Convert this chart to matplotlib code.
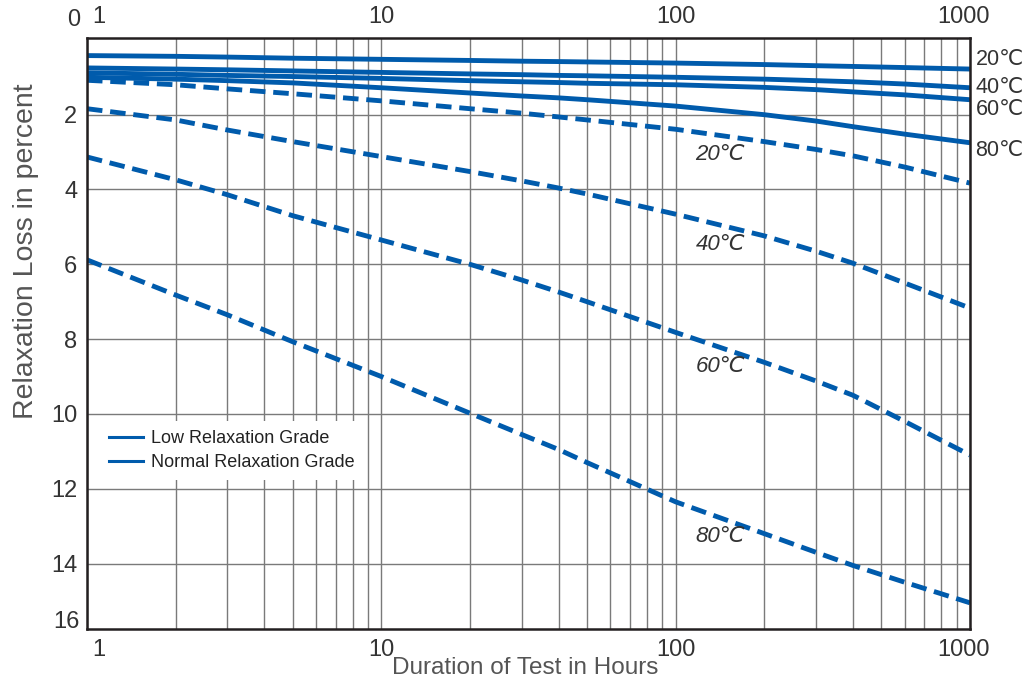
import numpy as np
import matplotlib
matplotlib.use("Agg")
import matplotlib.pyplot as plt
import matplotlib.transforms as mtransforms
from matplotlib.ticker import LogLocator, NullFormatter, FixedLocator, FixedFormatter

plt.rcParams['font.family'] = ['Liberation Sans', 'DejaVu Sans']

# hours
hours = [1, 2, 3, 5, 10, 20, 30, 40, 50, 100, 200, 300, 400, 600, 1000]

# low relaxation grade (solid)
low_20 = [0.42, 0.44, 0.46, 0.49, 0.52, 0.55, 0.57, 0.58, 0.59, 0.62, 0.66, 0.69, 0.71, 0.74, 0.78]
low_40 = [0.75, 0.78, 0.80, 0.83, 0.87, 0.91, 0.93, 0.95, 0.96, 1.00, 1.05, 1.09, 1.12, 1.18, 1.28]
low_60 = [0.88, 0.92, 0.95, 0.98, 1.03, 1.09, 1.12, 1.14, 1.16, 1.20, 1.27, 1.33, 1.39, 1.47, 1.60]
low_80 = [1.00, 1.05, 1.09, 1.15, 1.28, 1.42, 1.50, 1.55, 1.60, 1.77, 2.00, 2.17, 2.32, 2.52, 2.75]

# normal relaxation grade (dashed)
norm_20 = [1.08, 1.20, 1.31, 1.44, 1.63, 1.84, 1.96, 2.06, 2.14, 2.39, 2.72, 2.93, 3.10, 3.40, 3.83]
norm_40 = [1.84, 2.14, 2.41, 2.72, 3.12, 3.52, 3.77, 3.96, 4.12, 4.66, 5.24, 5.65, 5.97, 6.50, 7.17]
norm_60 = [3.13, 3.74, 4.14, 4.70, 5.35, 6.00, 6.42, 6.74, 7.00, 7.82, 8.62, 9.12, 9.50, 10.20, 11.10]
norm_80 = [5.88, 6.82, 7.35, 8.07, 9.00, 9.98, 10.55, 10.95, 11.30, 12.35, 13.20, 13.70, 14.05, 14.50, 15.05]

temp_labels = ['20℃', '40℃', '60℃', '80℃']
right_label_y = [0.53, 1.26, 1.87, 2.97]
inner_label_y = [3.07, 5.48, 8.74, 13.29]
inner_label_x = 142

x_ticks = [1, 10, 100, 1000]
x_ticklabels = ['1', '10', '100', '1000']
y_ticks = [2, 4, 6, 8, 10, 12, 14]

blue = '#005BAC'
txt = '#333333'
fs_tick = 17

fig = plt.figure(figsize=(10.34, 6.91), dpi=100)
ax = fig.add_axes([0.0841, 0.0897, 0.854, 0.8553])

for s in [low_20, low_40, low_60, low_80]:
    ax.plot(hours, s, color=blue, lw=3.5, solid_capstyle='butt')
for s in [norm_20, norm_40, norm_60, norm_80]:
    ax.plot(hours, s, color=blue, lw=3.5, dashes=(3.2, 1.6))

ax.set_xscale('log')
ax.set_xlim(1, 1000)
ax.set_ylim(15.75, -0.05)

ax.xaxis.set_major_locator(FixedLocator(x_ticks))
ax.xaxis.set_major_formatter(FixedFormatter(x_ticklabels))
ax.xaxis.set_minor_locator(LogLocator(base=10, subs=range(2, 10)))
ax.xaxis.set_minor_formatter(NullFormatter())
ax.set_yticks(y_ticks)

ax.tick_params(axis='both', which='both', length=0, colors=txt, labelsize=fs_tick)
ax.tick_params(axis='x', labeltop=True, pad=7)
ax.tick_params(axis='y', pad=7)

ax.grid(True, which='both', axis='x', color='#7a7a7a', lw=1.0)
ax.grid(True, which='major', axis='y', color='#7a7a7a', lw=1.0)
ax.set_axisbelow(True)

for sp in ax.spines.values():
    sp.set_color('#231f20')
    sp.set_linewidth(1.8)

# shift first and last x labels like the reference
offset = mtransforms.ScaledTranslation(12 / 100, 0, fig.dpi_scale_trans)
for t in ax.xaxis.get_major_ticks()[:1]:
    t.label1.set_transform(t.label1.get_transform() + offset)
    t.label2.set_transform(t.label2.get_transform() + offset)
offset2 = mtransforms.ScaledTranslation(-6 / 100, 0, fig.dpi_scale_trans)
for t in ax.xaxis.get_major_ticks()[-1:]:
    t.label1.set_transform(t.label1.get_transform() + offset2)
    t.label2.set_transform(t.label2.get_transform() + offset2)

ax.annotate('0', xy=(0, 1), xycoords='axes fraction', xytext=(-5, 13),
            textcoords='offset points', ha='right', va='center', fontsize=fs_tick, color=txt)
ax.annotate('16', xy=(0, 0), xycoords='axes fraction', xytext=(-5, 5),
            textcoords='offset points', ha='right', va='center', fontsize=fs_tick, color=txt)

ax.set_ylabel('Relaxation Loss in percent', fontsize=20.5, color='#555555')
ax.yaxis.set_label_coords(-0.054, 0.64)
ax.set_xlabel('Duration of Test in Hours', fontsize=17.5, color='#555555')
ax.xaxis.set_label_coords(0.496, -0.048)
ax.xaxis.label.set_va('top')

ytrans = ax.get_yaxis_transform()
for lab, yv in zip(temp_labels, right_label_y):
    ax.annotate(lab, xy=(1, yv), xycoords=ytrans, xytext=(4, 0), textcoords='offset points',
                ha='left', va='center', fontsize=15.5, color=txt)
for lab, yv in zip(temp_labels, inner_label_y):
    ax.text(inner_label_x, yv, lab, ha='center', va='center', fontsize=16,
            style='italic', color=txt)

ax.plot([], [], color=blue, lw=2.2, label='Low Relaxation Grade')
ax.plot([], [], color=blue, lw=2.2, label='Normal Relaxation Grade')
h, l = ax.get_legend_handles_labels()
leg = ax.legend(h[-2:], l[-2:], loc='upper left', bbox_to_anchor=(0.0147, 0.352),
                fontsize=13, frameon=True, facecolor='white', edgecolor='none',
                framealpha=1, fancybox=False, borderpad=0.5, handlelength=1.9,
                handletextpad=0.45, labelspacing=0.38, borderaxespad=0)
for t in leg.get_texts():
    t.set_color('#222222')

fig.savefig('out.png', dpi=100)
